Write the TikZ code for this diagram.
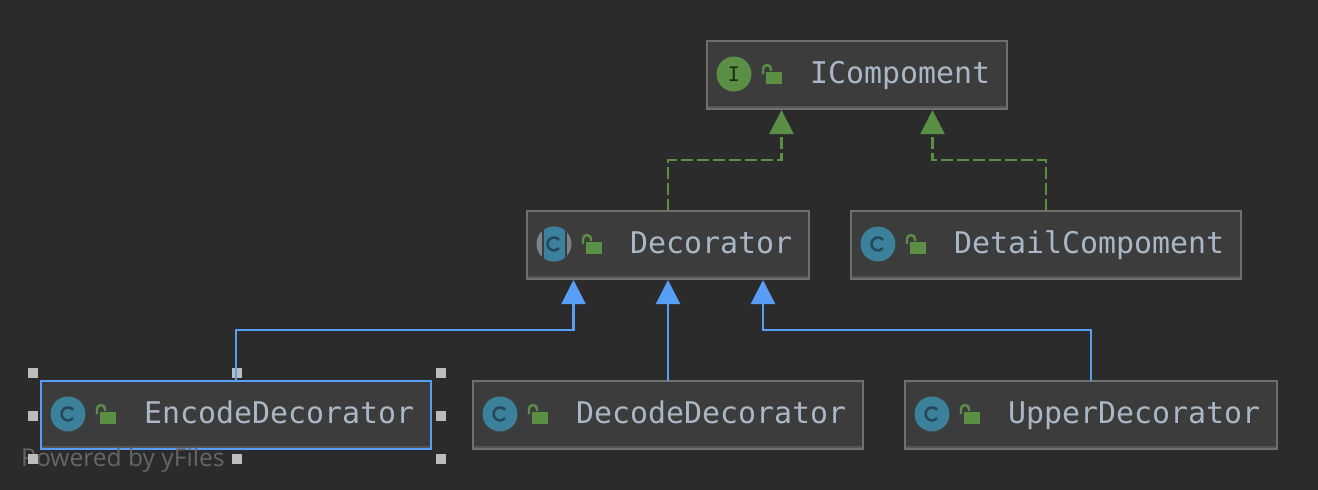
\documentclass[tikz,border=0pt]{standalone}
\usepackage{fontspec}
\setmonofont{DejaVu Sans Mono}
\setsansfont{Open Sans}
\usetikzlibrary{arrows.meta, calc}

\definecolor{canvasbg}{HTML}{2B2B2B}
\definecolor{boxbg}{HTML}{3C3C3C}
\definecolor{boxline}{HTML}{6F6F6F}
\definecolor{boxshade}{HTML}{555555}
\definecolor{labeltext}{HTML}{A9B7C6}
\definecolor{implgreen}{HTML}{5B8F45}
\definecolor{extblue}{HTML}{589DF6}
\definecolor{classteal}{HTML}{3B819B}
\definecolor{classdark}{HTML}{24465A}
\definecolor{abstractgray}{HTML}{7B8388}
\definecolor{handlegray}{HTML}{BDBDBD}
\definecolor{yfilesgray}{HTML}{666666}

\tikzset{
    umlbox/.style={fill=boxbg, line width=2, outer sep=0, inner sep=0, minimum height=68},
    umllabel/.style={anchor=base west, inner sep=0, text=labeltext,
        font=\ttfamily\fontsize{29.9}{30}\selectfont},
    realizes/.style={draw=implgreen, line width=2.2, dash pattern=on 12pt off 4pt,
        -{Triangle[length=24pt, width=24pt, sep=1pt]}},
    extends/.style={draw=extblue, line width=2.2,
        -{Triangle[length=24pt, width=24pt, sep=1pt]}},
    handle/.style={fill=handlegray, draw=none, minimum size=10, inner sep=0},
    pics/lockicon/.style={code={
        \fill[implgreen] (59,-3) rectangle (75,9);
        \draw[implgreen, line width=2.4] (56,-1) -- (56,-6) arc (180:360:4) -- (64,-4);
    }},
    pics/classletter/.style={code={
        \draw[classdark, line width=2.5] (32,-5.2) arc (-40:-320:6.5);
    }},
    pics/classicon/.style={code={
        \fill[classteal] (27,-1) circle (17.5);
        \path (0,0) pic {classletter};
    }},
}

\begin{document}
\begin{tikzpicture}[x=1pt, y=-1pt]
    \useasboundingbox[fill=canvasbg] (0,0) rectangle (1318,490);

    % boxes with their labels
    \foreach \name/\x/\y/\w/\c/\txt in {
        icomp/857/75/300/boxline/ICompoment,
        decorator/668/245/282/boxline/Decorator,
        detail/1046/245/390/boxline/DetailCompoment,
        encode/236/415/390/extblue/EncodeDecorator,
        decode/668/415/390/boxline/DecodeDecorator,
        upper/1091/415/372/boxline/UpperDecorator}
    {
        \node[umlbox, draw=\c, minimum width=\w] (\name) at (\x,\y) {};
        \fill[boxshade] ($(\name.south west)+(1,-3)$) rectangle ($(\name.south east)+(-1,-1)$);
        \node[umllabel] (\name label) at ($(\name.west)+(103,8)$) {\txt};
        \path (\name.west) pic {lockicon};
    }

    % icons
    \fill[implgreen] ($(icomp.west)+(27,-1)$) circle (17.5);
    \node[inner sep=0, text=black!70!implgreen, font=\ttfamily\fontsize{20}{20}\selectfont]
        (icompletter) at ($(icomp.west)+(27,-1)$) {I};
    \path (detail.west) pic {classicon};
    \path (encode.west) pic {classicon};
    \path (decode.west) pic {classicon};
    \path (upper.west) pic {classicon};
    \begin{scope}
        \clip ($(decorator.west)+(27,-1)$) circle (17.5);
        \fill[abstractgray] ($(decorator.west)+(9,-19)$) rectangle ($(decorator.west)+(45,17)$);
        \fill[boxbg] ($(decorator.west)+(15,-19)$) rectangle ($(decorator.west)+(40,17)$);
        \fill[classteal] ($(decorator.west)+(17,-19)$) rectangle ($(decorator.west)+(38,17)$);
    \end{scope}
    \path (decorator.west) pic {classletter};

    \node[anchor=base west, inner sep=0, text=yfilesgray, font=\sffamily\fontsize{24.6}{24.6}\selectfont]
        (poweredby) at (21,466) {Powered by yFiles};

    % selection handles
    \foreach \hname/\hx/\hy in {a/33/373, b/237/373, c/441/373, d/33/416, e/441/416, f/33/459, g/237/459, h/441/459}
        \node[handle] (handle\hname) at (\hx,\hy) {};

    % connectors
    \coordinate (bendA) at (781.5,160);
    \coordinate (bendB) at (932.5,160);
    \coordinate (bendC) at (573.5,330);
    \coordinate (bendD) at (763,330);
    \draw[realizes] (decorator.north) |- (bendA) -- (bendA |- icomp.south);
    \draw[realizes] (detail.north) |- (bendB) -- (bendB |- icomp.south);
    \draw[extends] (encode.north) |- (bendC) -- (bendC |- decorator.south);
    \draw[extends] (decode.north) -- (decorator.south);
    \draw[extends] (upper.north) |- (bendD) -- (bendD |- decorator.south);
\end{tikzpicture}
\end{document}
